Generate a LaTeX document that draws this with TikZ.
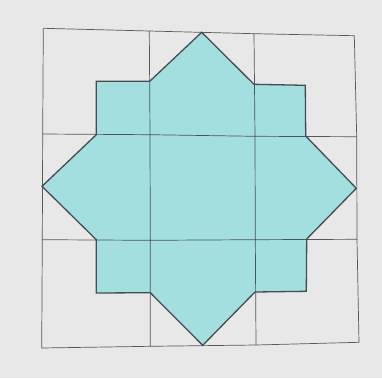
\documentclass[tikz,border=0pt]{standalone}
\begin{document}
\begin{tikzpicture}[x=1pt,y=-1pt,
  gridline/.style={draw=black!60!gray, line width=0.7pt, opacity=0.8},
  starfill/.style={fill=shapefill},
  staredge/.style={draw=edgecol, line width=1.3pt, line join=miter}]
\definecolor{bgcol}{HTML}{E8E8E8}
\definecolor{shapefill}{HTML}{A3DFDF}
\definecolor{edgecol}{HTML}{464B53}
\fill[bgcol] (0,0) rectangle (382,378);
\useasboundingbox (0,0) rectangle (382,378);
% grid points
\coordinate (g00) at (43.3,28.3);
\coordinate (g10) at (149.3,31);
\coordinate (g20) at (254,33.7);
\coordinate (g30) at (354.3,35.7);
\coordinate (g01) at (42.7,134);
\coordinate (g11) at (150,134.7);
\coordinate (g21) at (255,136.3);
\coordinate (g31) at (356.7,136.7);
\coordinate (g02) at (42.3,239.7);
\coordinate (g12) at (150.3,240.3);
\coordinate (g22) at (255.3,239.7);
\coordinate (g32) at (357,239.3);
\coordinate (g03) at (41.7,348);
\coordinate (g13) at (150.3,346.3);
\coordinate (g23) at (256,345);
\coordinate (g33) at (359,342.3);
% star vertices
\coordinate (s1) at (201.7,32.3);
\coordinate (s2) at (254,84.3);
\coordinate (s3) at (305.3,85.3);
\coordinate (s4) at (305.7,136);
\coordinate (s5) at (356.3,188.3);
\coordinate (s6) at (306.7,239);
\coordinate (s7) at (306.3,291.3);
\coordinate (s8) at (255,292);
\coordinate (s9) at (202.7,345.3);
\coordinate (s10) at (150.3,292.7);
\coordinate (s11) at (96.3,293);
\coordinate (s12) at (96.3,239.7);
\coordinate (s13) at (42,186.3);
\coordinate (s14) at (96.3,134.7);
\coordinate (s15) at (96.3,81.3);
\coordinate (s16) at (149.7,81.3);
\path[starfill] (s1)--(s2)--(s3)--(s4)--(s5)--(s6)--(s7)--(s8)--(s9)--(s10)--(s11)--(s12)--(s13)--(s14)--(s15)--(s16)--cycle;
% grid
\foreach \r in {0,1,2,3}{
  \draw[gridline] (g0\r)--(g1\r)--(g2\r)--(g3\r);
  \draw[gridline] (g\r0)--(g\r1)--(g\r2)--(g\r3);
}
\draw[staredge] (s1)--(s2)--(s3)--(s4)--(s5)--(s6)--(s7)--(s8)--(s9)--(s10)--(s11)--(s12)--(s13)--(s14)--(s15)--(s16)--cycle;
\end{tikzpicture}
\end{document}
